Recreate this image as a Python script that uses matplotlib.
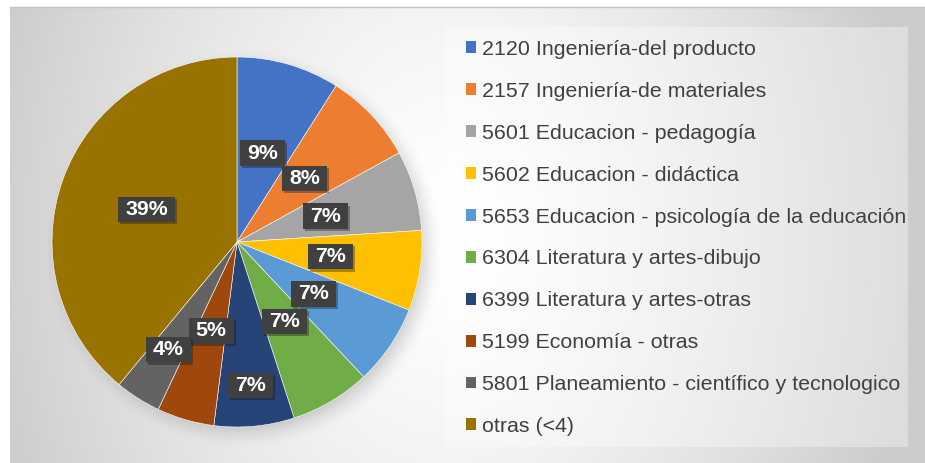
import numpy as np
import matplotlib
matplotlib.use("Agg")
import matplotlib.pyplot as plt
from matplotlib.patches import Rectangle, Patch
from matplotlib.path import Path
import matplotlib.patheffects as pe

# Share of each knowledge area (percent)
categories = [
    "2120 Ingeniería-del producto",
    "2157 Ingeniería-de materiales",
    "5601 Educacion - pedagogía",
    "5602 Educacion - didáctica",
    "5653 Educacion - psicología de la educación",
    "6304 Literatura y artes-dibujo",
    "6399 Literatura y artes-otras",
    "5199 Economía - otras",
    "5801 Planeamiento - científico y tecnologico",
    "otras (<4)",
]
shares = [9, 8, 7, 7, 7, 7, 7, 5, 4, 39]

colors = ["#4472C4", "#ED7D31", "#A5A5A5", "#FFC000", "#5B9BD5",
          "#70AD47", "#264478", "#9E480E", "#636363", "#997300"]
label_radius = [0.5, 0.5, 0.5, 0.51, 0.5, 0.5, 0.78, 0.5, 0.69, 0.52]

W, H = 925, 463
fig = plt.figure(figsize=(W / 100, H / 100), dpi=100)
fig.patch.set_facecolor("white")

# --- chart-area background: soft radial grey gradient ---
bg_left, bg_top = 10, 7
bg = fig.add_axes([bg_left / W, 0, (W - bg_left) / W, (H - bg_top) / H])
bg.set_axis_off()
xs = np.linspace(bg_left, W, 400)
ys = np.linspace(bg_top, H, 200)
X, Y = np.meshgrid(xs, ys)
d = np.sqrt(((X - 445) / 470) ** 2 + ((Y - 235) / 650) ** 2)
val = 1 - 0.20 * np.clip(d, 0, 1) ** 1.4
bg.imshow(np.dstack([val, val, val]), extent=[0, 1, 0, 1], origin="upper",
          aspect="auto", interpolation="bilinear")
bg.set_xlim(0, 1)
bg.set_ylim(0, 1)
fig.add_artist(plt.Line2D([bg_left / W, 1], [1 - bg_top / H] * 2,
                          color="#c4c4c4", lw=1.0))

# --- legend panel ---
fig.add_artist(Rectangle((445 / W, 1 - 447 / H), (908 - 445) / W, (447 - 27) / H,
                         transform=fig.transFigure, facecolor="white",
                         alpha=0.35, edgecolor="none"))

# --- pie ---
cx, cy, R = 237, 242, 185
lim = 1.12
ax = fig.add_axes([(cx - lim * R) / W, (H - cy - lim * R) / H,
                   2 * lim * R / W, 2 * lim * R / H])
ax.set_xlim(-lim, lim)
ax.set_ylim(-lim, lim)
ax.set_axis_off()

# soft drop shadow under the pie
gx = np.linspace(-lim, lim, 300)
GX, GY = np.meshgrid(gx, gx)
dist = np.sqrt((GX - 0.03) ** 2 + (GY + 0.04) ** 2)
alpha = np.clip((1.08 - dist) / 0.14, 0, 1) ** 1.5 * 0.35
shadow = np.zeros((300, 300, 4))
shadow[..., :3] = 0.45
shadow[..., 3] = alpha
ax.imshow(shadow, extent=[-lim, lim, -lim, lim], origin="lower",
          interpolation="bilinear", zorder=0)

wedges, _ = ax.pie(shares, colors=colors, startangle=90, counterclock=False,
                   radius=1, wedgeprops=dict(edgecolor="white", linewidth=0.4),
                   frame=True)
for w in wedges:
    w.set_zorder(2)
ax.set_xlim(-lim, lim)
ax.set_ylim(-lim, lim)
ax.set_axis_off()


def label_box(x0, y0, width, height, mutation_size):
    """Dark rectangle behind a percentage label."""
    px = 0.33 * mutation_size
    py = 0.15 * mutation_size
    x0, x1 = x0 - px, x0 + width + px
    y0, y1 = y0 - py, y0 + height + py
    return Path([(x0, y0), (x1, y0), (x1, y1), (x0, y1), (x0, y0)], closed=True)


for w, val_, r in zip(wedges, shares, label_radius):
    mid = np.deg2rad((w.theta1 + w.theta2) / 2)
    t = ax.text(r * np.cos(mid), r * np.sin(mid), f"{val_}%",
                ha="center", va="center", color="white", fontsize=15.4,
                fontweight="bold", family="Liberation Sans", zorder=5,
                bbox=dict(boxstyle=label_box, facecolor="#404040",
                          edgecolor="none"))
    t.get_bbox_patch().set_path_effects(
        [pe.SimplePatchShadow(offset=(1.5, -1.5), alpha=0.35), pe.Normal()])

# --- legend ---
handles = [Patch(facecolor=c, edgecolor="none") for c in colors]
fig.legend(handles, categories, loc="upper left",
           bbox_to_anchor=(466 / W, 1 - 40 / H), frameon=False,
           prop=dict(family="Liberation Sans", size=15.4),
           labelcolor="#404040", handlelength=0.48, handleheight=0.48,
           handletextpad=0.25, labelspacing=1.07, borderpad=0,
           borderaxespad=0)

fig.savefig("out.png", dpi=100, facecolor="white")
